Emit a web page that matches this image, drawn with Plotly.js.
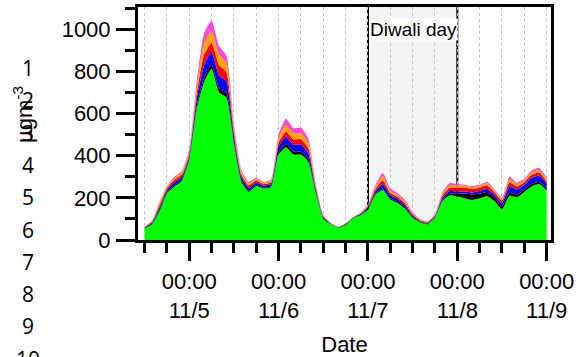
<!DOCTYPE html>
<html>
<head>
<meta charset="utf-8">
<script src="https://cdn.plot.ly/plotly-3.0.1.min.js"></script>
<style>
  html, body { margin: 0; padding: 0; background: #ffffff; }
  #chart { width: 579px; height: 357px; }
</style>
</head>
<body>
<div id="chart"></div>
<script>
// Two-hourly samples from 2018-11-04 12:00 to 2018-11-09 00:00 (µg m-3)
const startTime = '2018-11-04T12:00:00';
const stepHours = 2;

const green = [54, 75, 135, 222, 254, 280, 380, 620, 750, 812, 700, 676, 456, 275, 228, 256, 245, 252,
  405, 440, 405, 405, 370, 220, 100, 75, 59, 70, 102, 117,
  145, 215, 238, 192, 176, 148, 105, 84, 74, 105, 185, 212,
  206, 198, 190, 198, 208, 185, 145, 210, 203, 228, 255, 265, 235];
const black = [2, 3, 6, 4, 6, 6, 6, 12, 20, 19, 20, 22, 10, 7, 6, 5, 4, 4,
  10, 15, 14, 14, 12, 6, 3, 1, 1, 2, 1, 2,
  3, 5, 6, 6, 6, 5, 4, 2, 2, 2, 5, 8,
  14, 22, 25, 22, 20, 15, 14, 16, 12, 10, 10, 10, 8];
const blue = [3, 5, 12, 10, 14, 13, 14, 35, 60, 60, 60, 55, 27, 17, 14, 12, 9, 11,
  28, 35, 33, 34, 30, 13, 6, 2, 1, 3, 2, 4,
  7, 12, 22, 14, 13, 11, 7, 4, 4, 5, 10, 12,
  10, 10, 10, 12, 14, 14, 15, 30, 25, 24, 30, 31, 24];
const red = [2, 4, 12, 9, 12, 12, 12, 30, 50, 45, 50, 42, 22, 13, 11, 9, 7, 8,
  20, 25, 25, 25, 22, 10, 4, 2, 1, 2, 2, 3,
  6, 10, 16, 11, 10, 9, 6, 4, 4, 4, 10, 16,
  18, 18, 18, 16, 17, 13, 13, 18, 14, 12, 14, 14, 11];
const orange = [2, 3, 10, 7, 9, 10, 11, 30, 55, 54, 50, 45, 20, 12, 10, 8, 6, 8,
  20, 30, 28, 28, 25, 9, 4, 1, 1, 2, 2, 3,
  5, 10, 20, 11, 9, 8, 6, 3, 3, 3, 8, 12,
  10, 9, 8, 9, 10, 8, 8, 15, 10, 9, 12, 12, 9];
const pink = [1, 2, 5, 3, 5, 5, 7, 23, 45, 50, 40, 34, 16, 8, 6, 5, 4, 5,
  17, 30, 25, 27, 21, 7, 3, 1, 1, 1, 1, 2,
  4, 8, 16, 10, 8, 7, 4, 3, 2, 3, 7, 10,
  7, 5, 5, 5, 6, 5, 5, 11, 8, 7, 9, 10, 8];

const seriesNames = ['green', 'black', 'blue', 'red', 'orange', 'pink'];
const seriesColors = ['#00ff00', '#000000', '#0000ff', '#ff0000', '#ffa500', '#ff44dd'];
const seriesValues = [green, black, blue, red, orange, pink];

const dayTickVals = ['2018-11-05', '2018-11-06', '2018-11-07', '2018-11-08', '2018-11-09'];
const dayTickText = ['00:00<br>11/5', '00:00<br>11/6', '00:00<br>11/7', '00:00<br>11/8', '00:00<br>11/9'];
const yTickVals = [0, 200, 400, 600, 800, 1000];
const sideLabels = ['1', '2', '3', '4', '5', '6', '7', '8', '9', '10'];

function pad(n) { return (n < 10 ? '0' : '') + n; }
function timeAxis(count) {
  const t0 = new Date(startTime + 'Z').getTime();
  const out = [];
  for (let i = 0; i < count; i++) {
    const d = new Date(t0 + i * stepHours * 3600 * 1000);
    out.push(d.getUTCFullYear() + '-' + pad(d.getUTCMonth() + 1) + '-' + pad(d.getUTCDate()) +
      ' ' + pad(d.getUTCHours()) + ':00');
  }
  return out;
}
const times = timeAxis(green.length);

const traces = seriesValues.map((vals, i) => ({
  type: 'scatter',
  x: times,
  y: vals,
  name: seriesNames[i],
  stackgroup: 'one',
  mode: 'none',
  fillcolor: seriesColors[i],
  line: { width: 0, shape: 'spline', smoothing: 0.5 },
  hoverinfo: 'x+y+name'
}));

const W = 579, H = 357;
const mL = 138, mR = 28, mT = 7, mB = 117;
const plotH = H - mT - mB;
const plotW = W - mL - mR;
const font = 'Arial, "Liberation Sans", sans-serif';
const fs = 22;
const gridDash = '3px,3px';
const gridColor = '#c4c4c4';

function pyPaper(px) { return (H - mB - px) / plotH; }
function pxPaper(px) { return (px - mL) / plotW; }

const annotations = sideLabels.map((s, i) => ({
  text: s,
  xref: 'paper', yref: 'paper',
  x: pxPaper(28), y: pyPaper(68 + i * 32.3),
  xanchor: 'center', yanchor: 'middle',
  showarrow: false,
  font: { family: '"Open Sans", sans-serif', size: 21, color: '#000' }
}));
annotations.push({
  text: 'µgm<sup>-3</sup>',
  xref: 'paper', yref: 'paper',
  x: pxPaper(23), y: pyPaper(114),
  xanchor: 'center', yanchor: 'middle',
  textangle: -90,
  showarrow: false,
  font: { family: font, size: fs, color: '#000' }
});
annotations.push({
  text: 'Diwali day',
  xref: 'x', yref: 'paper',
  x: '2018-11-07 00:15', y: pyPaper(29),
  xanchor: 'left', yanchor: 'middle',
  showarrow: false,
  bgcolor: '#ffffff',
  borderpad: 0,
  font: { family: font, size: 19, color: '#000' }
});

const layout = {
  width: W, height: H,
  margin: { l: mL, r: mR, t: mT, b: mB, pad: 0 },
  paper_bgcolor: '#ffffff',
  plot_bgcolor: '#ffffff',
  showlegend: false,
  font: { family: font, size: fs, color: '#000' },
  xaxis: {
    type: 'date',
    range: ['2018-11-04 10:14', '2018-11-09 01:10'],
    tickvals: dayTickVals,
    ticktext: dayTickText,
    ticks: 'outside', ticklen: 18, tickwidth: 3, tickcolor: '#000',
    tickfont: { family: font, size: fs, color: '#000' },
    ticklabelstandoff: 2,
    showline: true, mirror: true, linewidth: 3, linecolor: '#000',
    showgrid: true, gridcolor: gridColor, gridwidth: 1, griddash: gridDash,
    zeroline: false,
    minor: {
      dtick: 6 * 3600 * 1000, tick0: '2018-11-04 00:00',
      ticks: 'outside', ticklen: 10, tickwidth: 3, tickcolor: '#000',
      showgrid: true, gridcolor: gridColor, gridwidth: 1, griddash: gridDash
    },
    title: { text: 'Date', font: { family: font, size: fs, color: '#000' }, standoff: 16 }
  },
  yaxis: {
    range: [0, 1105],
    tickvals: yTickVals,
    ticks: 'outside', ticklen: 19, tickwidth: 3, tickcolor: '#000',
    tickfont: { family: font, size: fs, color: '#000' },
    ticklabelstandoff: 1,
    showline: true, mirror: true, linewidth: 3, linecolor: '#000',
    showgrid: false, zeroline: false,
    minor: { dtick: 100, ticks: 'outside', ticklen: 10, tickwidth: 3, tickcolor: '#000', showgrid: false }
  },
  shapes: [
    {
      type: 'rect', layer: 'below',
      xref: 'x', yref: 'paper',
      x0: '2018-11-07 00:00', x1: '2018-11-08 00:00', y0: 0, y1: 1,
      fillcolor: '#f4f4f4',
      line: { width: 0 }
    },
    {
      type: 'line', layer: 'between', xref: 'x', yref: 'paper',
      x0: '2018-11-07 00:00', x1: '2018-11-07 00:00', y0: 0, y1: 1,
      line: { color: '#000', width: 2 }
    },
    {
      type: 'line', layer: 'between', xref: 'x', yref: 'paper',
      x0: '2018-11-08 00:00', x1: '2018-11-08 00:00', y0: 0, y1: 1,
      line: { color: '#000', width: 2 }
    }
  ],
  annotations: annotations
};

Plotly.newPlot('chart', traces, layout, { staticPlot: true, displayModeBar: false });
</script>
</body>
</html>
